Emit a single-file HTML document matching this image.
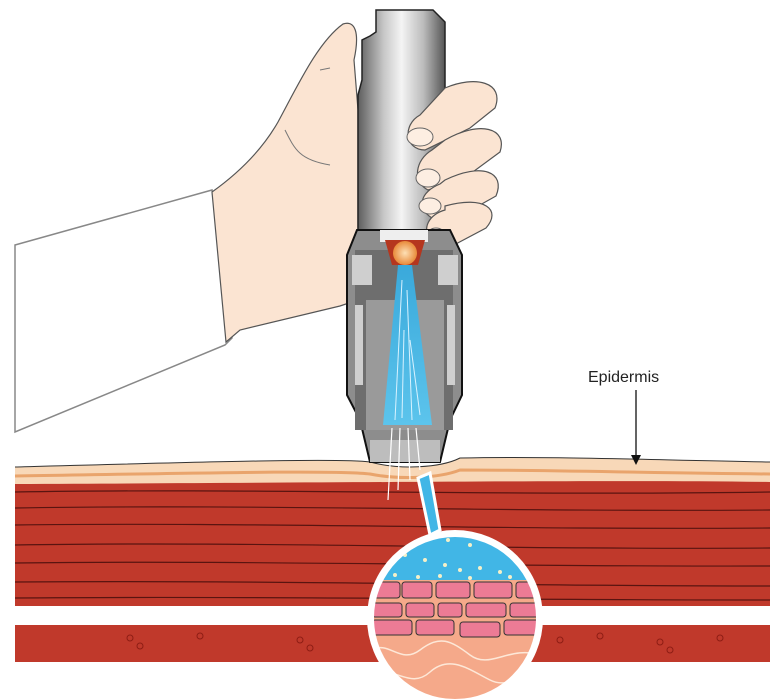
<!DOCTYPE html>
<html><head><style>body{margin:0;background:#fff}svg{display:block}</style></head><body>
<svg width="775" height="700" viewBox="0 0 775 700" xmlns="http://www.w3.org/2000/svg">
<defs>
<linearGradient id="metal" x1="0" x2="1" y1="0" y2="0">
<stop offset="0" stop-color="#5e5e5e"/><stop offset="0.3" stop-color="#c8c8c8"/><stop offset="0.5" stop-color="#f4f4f4"/><stop offset="0.75" stop-color="#bcbcbc"/><stop offset="1" stop-color="#555"/></linearGradient>
<linearGradient id="jet" x1="0" x2="0" y1="0" y2="1"><stop offset="0" stop-color="#3aa9db"/><stop offset="1" stop-color="#5cc4ec"/></linearGradient>
<radialGradient id="ball"><stop offset="0" stop-color="#fde0b5"/><stop offset="1" stop-color="#e88a3a"/></radialGradient>
<clipPath id="cc"><circle cx="455" cy="618" r="84"/></clipPath>
</defs>
<!-- sleeve -->
<polygon points="15,245 212,190 232,338 225,345 15,432" fill="#fff" stroke="#888" stroke-width="1.5"/>
<!-- hand -->
<path d="M212,192 C240,172 262,150 278,122 C298,85 318,42 343,24 C355,20 360,32 354,60 L358,110 L358,300 L340,306 L240,330 L226,342 Z" fill="#fbe4d2" stroke="#555" stroke-width="1.2"/>
<path d="M320,70 L330,68 M285,130 C295,150 300,160 330,165" fill="none" stroke="#777" stroke-width="1"/>
<!-- skin lower layers -->
<rect x="15" y="478" width="755" height="128" fill="#c0392b"/>
<g stroke="#5a1410" stroke-width="1.2" fill="none">
<path d="M15,492 C250,488 500,496 770,492"/><path d="M15,508 C250,504 500,512 770,510"/><path d="M15,525 C250,522 500,530 770,528"/><path d="M15,545 C250,541 500,550 770,548"/><path d="M15,563 C250,560 500,567 770,566"/><path d="M15,582 C250,580 500,586 770,586"/><path d="M15,598 C250,596 500,600 770,600"/></g>
<rect x="15" y="625" width="755" height="37" fill="#c0392b"/>
<g fill="none" stroke="#8e1d14" stroke-width="1"><circle cx="130" cy="638" r="3"/><circle cx="140" cy="646" r="3"/><circle cx="200" cy="636" r="3"/><circle cx="300" cy="640" r="3"/><circle cx="310" cy="648" r="3"/><circle cx="560" cy="640" r="3"/><circle cx="600" cy="636" r="3"/><circle cx="660" cy="642" r="3"/><circle cx="670" cy="650" r="3"/><circle cx="720" cy="638" r="3"/></g>
<!-- epidermis -->
<path d="M15,467 C200,462 340,458 370,462 C400,470 440,468 460,458 C550,456 650,460 770,462 L770,482 C600,480 450,482 15,484 Z" fill="#f8d8b8"/>
<path d="M15,476 C200,473 340,470 370,474 C400,480 440,478 460,470 C550,470 650,473 770,474" fill="none" stroke="#e9a46c" stroke-width="3"/>
<path d="M15,467 C200,462 340,458 370,462 C400,470 440,468 460,458 C550,456 650,460 770,462" fill="none" stroke="#333" stroke-width="1"/>
<!-- device upper -->
<path d="M376,10 L433,10 L445,22 L445,232 L358,232 L358,95 L362,80 L362,40 L370,36 L376,32 Z" fill="url(#metal)" stroke="#222" stroke-width="1.5"/>
<!-- fingers -->
<g fill="#fbe4d2" stroke="#555" stroke-width="1.2">
<path d="M445,88 C475,75 505,82 495,108 L470,128 L425,150 C405,150 402,125 420,115 Z"/>
<path d="M445,140 C480,120 508,128 500,152 L462,180 L428,190 C412,182 415,160 432,150 Z"/>
<path d="M445,180 C482,162 506,172 496,196 L462,215 L432,218 C416,208 420,192 440,184 Z"/>
<path d="M445,206 C485,195 502,210 486,228 L452,246 L432,242 C420,228 430,214 445,210 Z"/>
</g>
<g fill="#fdeee2" stroke="#666" stroke-width="1"><ellipse cx="420" cy="137" rx="13" ry="9"/><ellipse cx="428" cy="178" rx="12" ry="9"/><ellipse cx="430" cy="206" rx="11" ry="8"/><ellipse cx="436" cy="235" rx="9" ry="7"/></g>
<!-- device lower -->
<path d="M357,230 L450,230 L462,255 L462,395 L450,420 L440,462 L370,462 L360,420 L347,395 L347,255 Z" fill="#8d8d8d" stroke="#111" stroke-width="2"/>
<rect x="355" y="250" width="98" height="180" fill="#6e6e6e"/>
<rect x="366" y="300" width="78" height="130" fill="#9a9a9a"/>
<rect x="352" y="255" width="20" height="30" fill="#cfcfcf"/><rect x="438" y="255" width="20" height="30" fill="#cfcfcf"/>
<rect x="355" y="305" width="8" height="80" fill="#cfcfcf"/><rect x="447" y="305" width="8" height="80" fill="#cfcfcf"/>
<rect x="380" y="230" width="48" height="12" fill="#eee"/>
<path d="M385,240 L425,240 L418,265 L392,265 Z" fill="#b5361e"/>
<circle cx="405" cy="253" r="12" fill="url(#ball)"/>
<path d="M398,265 L412,265 L432,425 L383,425 Z" fill="url(#jet)"/>
<g stroke="#d8f2ff" stroke-width="1"><line x1="402" y1="280" x2="395" y2="420"/><line x1="407" y1="290" x2="412" y2="420"/><line x1="404" y1="330" x2="402" y2="418"/><line x1="410" y1="340" x2="420" y2="415"/></g>
<rect x="370" y="440" width="70" height="22" fill="#bdbdbd"/>
<g stroke="#fff" stroke-width="1.2"><line x1="392" y1="428" x2="388" y2="500"/><line x1="400" y1="428" x2="398" y2="490"/><line x1="408" y1="428" x2="410" y2="480"/><line x1="416" y1="428" x2="420" y2="470"/></g>
<!-- callout -->
<path d="M418,478 L430,473 L440,530 L430,535 Z" fill="#41b6e6" stroke="#fff" stroke-width="3"/>
<circle cx="455" cy="618" r="88" fill="#fff"/>
<g clip-path="url(#cc)">
<rect x="360" y="520" width="200" height="60" fill="#41b6e6"/>
<rect x="360" y="580" width="200" height="120" fill="#f5a98a"/>
<g fill="#ec7b95" stroke="#333" stroke-width="1">
<rect x="370" y="582" width="30" height="16" rx="3"/><rect x="402" y="582" width="30" height="16" rx="3"/><rect x="436" y="582" width="34" height="16" rx="3"/><rect x="474" y="582" width="38" height="16" rx="3"/><rect x="516" y="582" width="30" height="16" rx="3"/>
<rect x="372" y="603" width="30" height="14" rx="3"/><rect x="406" y="603" width="28" height="14" rx="3"/><rect x="438" y="603" width="24" height="14" rx="3"/><rect x="466" y="603" width="40" height="14" rx="3"/><rect x="510" y="603" width="34" height="14" rx="3"/>
<rect x="372" y="620" width="40" height="15" rx="3"/><rect x="416" y="620" width="38" height="15" rx="3"/><rect x="460" y="622" width="40" height="15" rx="3"/><rect x="504" y="620" width="38" height="15" rx="3"/></g>
<g fill="none" stroke="#fde8d8" stroke-width="1.5"><path d="M370,650 C390,640 400,665 420,650 S450,640 470,655 S510,645 540,655"/><path d="M375,675 C395,665 410,690 430,672 S470,670 490,680 S520,670 540,680"/></g>
<g fill="#f5f0c8"><circle cx="430" cy="533" r="2"/><circle cx="448" cy="540" r="2"/><circle cx="470" cy="545" r="2"/><circle cx="405" cy="555" r="2"/><circle cx="425" cy="560" r="2"/><circle cx="445" cy="565" r="2"/><circle cx="460" cy="570" r="2"/><circle cx="480" cy="568" r="2"/><circle cx="500" cy="572" r="2"/><circle cx="395" cy="575" r="2"/><circle cx="418" cy="577" r="2"/><circle cx="440" cy="576" r="2"/><circle cx="470" cy="578" r="2"/><circle cx="510" cy="577" r="2"/><circle cx="525" cy="555" r="2"/></g>
</g>
<circle cx="455" cy="618" r="84" fill="none" stroke="#fff" stroke-width="6"/>
<!-- label -->
<text x="588" y="382" font-family="Liberation Sans, sans-serif" font-size="16" fill="#222">Epidermis</text>
<line x1="636" y1="390" x2="636" y2="458" stroke="#111" stroke-width="1.3"/>
<polygon points="631,455 641,455 636,465" fill="#111"/>
</svg>
</body></html>
